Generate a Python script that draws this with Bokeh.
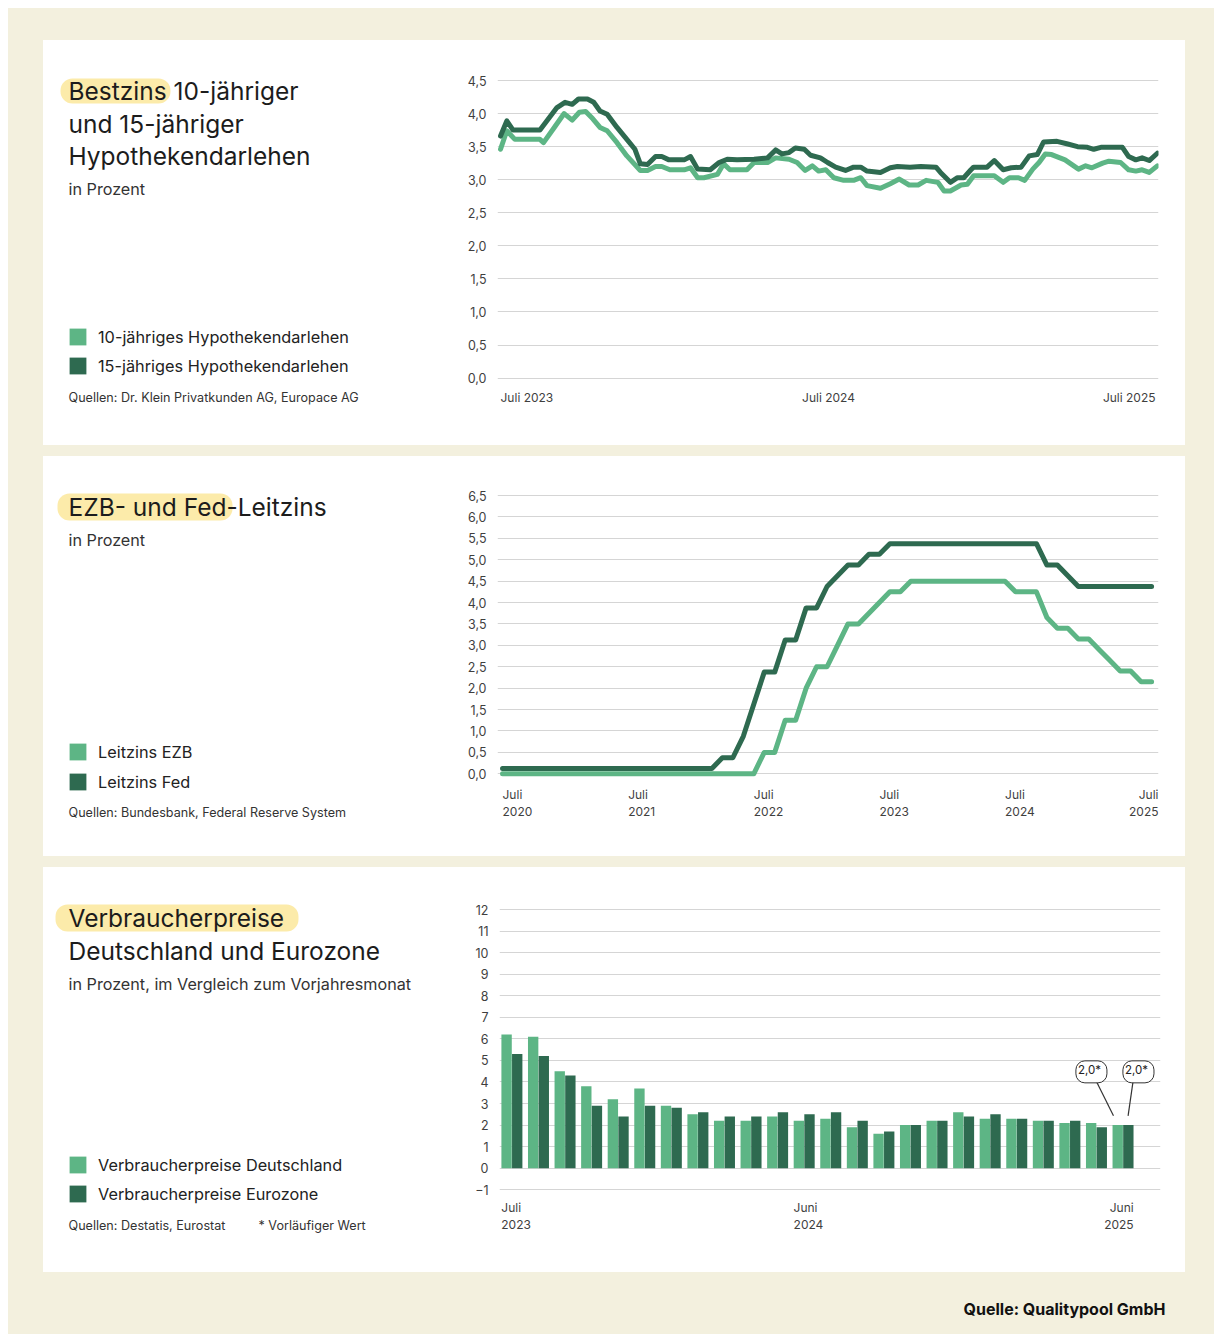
from datetime import datetime
import pandas as pd
from bokeh.plotting import figure
from bokeh.layouts import column, row
from bokeh.models import (Range1d, Label, BoxAnnotation, Legend, LegendItem,
                          FixedTicker, CustomJSTickFormatter, ColumnDataSource)
from bokeh.transform import dodge
from bokeh.embed import file_html
from bokeh.resources import INLINE

# ---------------- data: chart 1 (Bestzins Hypothekendarlehen) ----------------
hyp15_dates = ["2023-07-01", "2023-07-08", "2023-07-15", "2023-08-14", "2023-09-02", "2023-09-11",
               "2023-09-19", "2023-09-26", "2023-10-06", "2023-10-13", "2023-10-20", "2023-10-28",
               "2023-11-08", "2023-11-19", "2023-11-28", "2023-12-04", "2023-12-12", "2023-12-21",
               "2023-12-28", "2024-01-05", "2024-01-22", "2024-01-29", "2024-02-06", "2024-02-20",
               "2024-03-01", "2024-03-10", "2024-03-21", "2024-04-09", "2024-04-24", "2024-05-03",
               "2024-05-10", "2024-05-18", "2024-05-25", "2024-06-04", "2024-06-11", "2024-06-22",
               "2024-06-30", "2024-07-09", "2024-07-20", "2024-07-29", "2024-08-06", "2024-08-13",
               "2024-08-28", "2024-09-08", "2024-09-16", "2024-09-30", "2024-10-12", "2024-10-29",
               "2024-11-03", "2024-11-14", "2024-11-22", "2024-11-29", "2024-12-07", "2024-12-10",
               "2024-12-25", "2025-01-02", "2025-01-12", "2025-01-21", "2025-02-01", "2025-02-10",
               "2025-02-19", "2025-02-26", "2025-03-13", "2025-03-25", "2025-04-05", "2025-04-16",
               "2025-04-23", "2025-05-01", "2025-05-25", "2025-06-01", "2025-06-09", "2025-06-16",
               "2025-06-24", "2025-07-03"]
hyp15_values = [3.66, 3.89, 3.75, 3.75, 4.09, 4.17, 4.14, 4.22, 4.22, 4.17, 4.04, 3.99,
                3.79, 3.61, 3.46, 3.24, 3.23, 3.35, 3.35, 3.30, 3.30, 3.35, 3.16, 3.15,
                3.26, 3.31, 3.30, 3.31, 3.33, 3.45, 3.39, 3.41, 3.48, 3.46, 3.37, 3.33,
                3.26, 3.19, 3.14, 3.19, 3.19, 3.13, 3.11, 3.18, 3.20, 3.19, 3.20, 3.19,
                3.11, 2.96, 3.03, 3.03, 3.15, 3.19, 3.19, 3.29, 3.15, 3.18, 3.19, 3.36,
                3.38, 3.57, 3.58, 3.54, 3.50, 3.49, 3.46, 3.49, 3.49, 3.35, 3.30, 3.33,
                3.29, 3.40]
hyp10_dates = ["2023-07-01", "2023-07-08", "2023-07-17", "2023-08-14", "2023-08-18", "2023-08-30",
               "2023-09-10", "2023-09-19", "2023-09-27", "2023-10-04", "2023-10-12", "2023-10-20",
               "2023-10-28", "2023-11-08", "2023-11-19", "2023-12-04", "2023-12-12", "2023-12-21",
               "2023-12-28", "2024-01-06", "2024-01-22", "2024-01-29", "2024-02-06", "2024-02-13",
               "2024-02-28", "2024-03-06", "2024-03-13", "2024-04-01", "2024-04-09", "2024-04-24",
               "2024-05-03", "2024-05-18", "2024-05-27", "2024-06-05", "2024-06-13", "2024-06-20",
               "2024-06-28", "2024-07-07", "2024-07-18", "2024-07-29", "2024-08-06", "2024-08-13",
               "2024-08-28", "2024-09-08", "2024-09-18", "2024-09-29", "2024-10-09", "2024-10-18",
               "2024-10-31", "2024-11-07", "2024-11-14", "2024-11-26", "2024-12-03", "2024-12-10",
               "2025-01-02", "2025-01-12", "2025-01-19", "2025-01-29", "2025-02-05", "2025-02-14",
               "2025-02-21", "2025-02-28", "2025-03-07", "2025-03-22", "2025-04-06", "2025-04-14",
               "2025-04-21", "2025-05-03", "2025-05-10", "2025-05-23", "2025-06-01", "2025-06-09",
               "2025-06-16", "2025-06-24", "2025-07-03"]
hyp10_values = [3.46, 3.74, 3.61, 3.61, 3.56, 3.79, 4.00, 3.90, 4.02, 4.03, 3.92, 3.79,
                3.74, 3.56, 3.36, 3.14, 3.14, 3.20, 3.20, 3.15, 3.15, 3.18, 3.03, 3.03,
                3.08, 3.24, 3.15, 3.15, 3.26, 3.26, 3.33, 3.31, 3.26, 3.14, 3.21, 3.13,
                3.15, 3.03, 2.99, 2.99, 3.03, 2.91, 2.87, 2.94, 3.01, 2.92, 2.92, 2.99,
                2.96, 2.83, 2.83, 2.92, 2.93, 3.06, 3.06, 2.96, 3.03, 3.03, 2.99, 3.16,
                3.26, 3.39, 3.38, 3.30, 3.16, 3.21, 3.18, 3.25, 3.28, 3.26, 3.15, 3.13,
                3.15, 3.11, 3.21]
hyp_yticks = [0.0, 0.5, 1.0, 1.5, 2.0, 2.5, 3.0, 3.5, 4.0, 4.5]
hyp_xtick_dates = ["2023-07-01", "2024-07-01", "2025-07-01"]
hyp_xtick_labels = ["Juli 2023", "Juli 2024", "Juli 2025"]

# ---------------- data: chart 2 (Leitzinsen, monatlich ab Juli 2020) ----------------
lz_start = "2020-07-01"
ezb_values = [0.0] * 25 + [0.5, 0.5, 1.25, 1.25, 2.0, 2.5, 2.5, 3.0, 3.5, 3.5, 3.75, 4.0, 4.25, 4.25] \
    + [4.5] * 10 + [4.25] * 3 + [3.65, 3.4, 3.4, 3.15, 3.15, 2.9, 2.65, 2.4, 2.4, 2.15, 2.15]
fed_values = [0.125] * 21 + [0.375, 0.375, 0.875, 1.625, 2.375, 2.375, 3.125, 3.125, 3.875, 3.875,
                             4.375, 4.625, 4.875, 4.875, 5.125, 5.125] \
    + [5.375] * 15 + [4.875, 4.875, 4.625] + [4.375] * 8
lz_yticks = [0.0, 0.5, 1.0, 1.5, 2.0, 2.5, 3.0, 3.5, 4.0, 4.5, 5.0, 5.5, 6.0, 6.5]
lz_xtick_months = ["2020-07", "2021-07", "2022-07", "2023-07", "2024-07", "2025-07"]
lz_xtick_top = ["Juli", "Juli", "Juli", "Juli", "Juli", "Juli"]
lz_xtick_bottom = ["2020", "2021", "2022", "2023", "2024", "2025"]

# ---------------- data: chart 3 (Verbraucherpreise) ----------------
vpi_months = ["2023-07", "2023-08", "2023-09", "2023-10", "2023-11", "2023-12",
              "2024-01", "2024-02", "2024-03", "2024-04", "2024-05", "2024-06",
              "2024-07", "2024-08", "2024-09", "2024-10", "2024-11", "2024-12",
              "2025-01", "2025-02", "2025-03", "2025-04", "2025-05", "2025-06"]
vpi_de = [6.2, 6.1, 4.5, 3.8, 3.2, 3.7, 2.9, 2.5, 2.2, 2.2, 2.4, 2.2,
          2.3, 1.9, 1.6, 2.0, 2.2, 2.6, 2.3, 2.3, 2.2, 2.1, 2.1, 2.0]
vpi_ez = [5.3, 5.2, 4.3, 2.9, 2.4, 2.9, 2.8, 2.6, 2.4, 2.4, 2.6, 2.5,
          2.6, 2.2, 1.7, 2.0, 2.2, 2.4, 2.5, 2.3, 2.2, 2.2, 1.9, 2.0]
vpi_yticks = [-1, 0, 1, 2, 3, 4, 5, 6, 7, 8, 9, 10, 11, 12]
vpi_xtick_months = ["2023-07", "2024-06", "2025-06"]
vpi_xtick_top = ["Juli", "Juni", "Juni"]
vpi_xtick_bottom = ["2023", "2024", "2025"]

# ---------------- style ----------------
FONT = "Inter"
BEIGE = "#f3f0de"
LIGHT = "#5db585"
DARK = "#2e6a50"
HILITE = "#fbe79b"
GRID = "#d5d5d5"
INK = "#1c1c1c"
TICK = "#3f3f3f"
PANEL_LEFT = 43          # page x of the white panels
PANEL_W = 1142
LEFT_W = 400             # width of the text column inside a panel
TITLE_PX = 24.5
SUB_PX = 16.2
LEG_PX = 16.3
SRC_PX = 12.6
NAN = float("nan")


def to_ms(d):
    return (pd.Timestamp(d) - pd.Timestamp("1970-01-01")) / pd.Timedelta(milliseconds=1)


def vsetup(panel_top, panel_h, top_px, bot_px, v_top, v_bot, pad_top=1, mbb=2):
    ppu = (bot_px - top_px) / (v_top - v_bot)
    mbt = int(round(top_px - pad_top - panel_top))
    frame_top = panel_top + mbt
    frame_bot = panel_top + panel_h - mbb
    start = v_bot - (frame_bot - bot_px) / ppu
    end = v_top + (top_px - frame_top) / ppu

    def val(py):
        return v_bot + (bot_px - py) / ppu
    return Range1d(start, end), mbt, mbb, val


def text_fig(panel_top, panel_h):
    f = figure(width=LEFT_W, height=panel_h, x_range=Range1d(0, LEFT_W), y_range=Range1d(0, panel_h),
               title=None, x_axis_location=None, y_axis_location=None, toolbar_location=None,
               output_backend="svg", min_border=0, outline_line_color=None,
               background_fill_color="white", border_fill_color="white", frame_align=False)
    f.xgrid.visible = False
    f.ygrid.visible = False
    f._panel = (panel_top, panel_h)
    return f


def tx(f, px, py):
    top, h = f._panel
    return px - PANEL_LEFT, h - (py - top)


def text(f, s, px, py, size, color=INK, style="normal"):
    x, y = tx(f, px, py)
    f.add_layout(Label(x=x, y=y, text=s, text_font=FONT, text_font_size=f"{size}px",
                       text_color=color, text_align="left", text_baseline="middle",
                       text_font_style=style))


def hilite(f, x0, x1, y0, y1):
    l, t = tx(f, x0, y0)
    r, b = tx(f, x1, y1)
    f.add_layout(BoxAnnotation(left=l, right=r, top=t, bottom=b,
                               fill_color=HILITE, fill_alpha=0.85, line_color=None,
                               border_radius=12, level="underlay"))


def legend(f, labels, colors, sq_left, sq_bottom, spacing):
    # legend proxies: glyphs without any visible data point
    rs = [f.vbar(x=[NAN], top=[NAN], width=1, fill_color=c, line_color=None) for c in colors]
    x, y = tx(f, sq_left - 2, sq_bottom + 2)
    lg = Legend(items=[LegendItem(label=lab, renderers=[r]) for lab, r in zip(labels, rs)],
                location=(x, y), orientation="vertical", glyph_width=21, glyph_height=21,
                label_height=21, label_standoff=10, spacing=spacing,
                padding=0, margin=0, border_line_color=None,
                background_fill_alpha=0, label_text_font=FONT,
                label_text_font_size=f"{LEG_PX}px", label_text_color="#222222",
                label_text_baseline="middle")
    f.add_layout(lg)


def chart_fig(panel_h, frame_left, frame_right, yr, mbt, mbb, x_range, x_type="linear"):
    fig_left = PANEL_LEFT + LEFT_W
    p = figure(width=PANEL_W - LEFT_W, height=panel_h, x_range=x_range, y_range=yr,
               title=None, x_axis_type=x_type, x_axis_location=None,
               toolbar_location=None, output_backend="svg",
               min_border_left=frame_left - fig_left,
               min_border_right=PANEL_LEFT + PANEL_W - frame_right,
               min_border_top=mbt, min_border_bottom=mbb,
               outline_line_color=None, background_fill_color="white",
               border_fill_color="white", frame_align=False)
    p.xgrid.visible = False
    p.ygrid.grid_line_color = GRID
    p.ygrid.grid_line_width = 1
    ax = p.yaxis[0]
    ax.axis_line_color = None
    ax.major_tick_line_color = None
    ax.minor_tick_line_color = None
    ax.major_tick_out = 0
    ax.major_tick_in = 0
    ax.major_label_standoff = 11
    ax.major_label_text_font = FONT
    ax.major_label_text_font_size = "12.5px"
    ax.major_label_text_color = TICK
    return p


def tick_label(p, x, y, s, align):
    p.add_layout(Label(x=x, y=y, text=s, text_font=FONT, text_font_size="12px",
                       text_color=TICK, text_align=align, text_baseline="middle"))


comma1 = CustomJSTickFormatter(code="return tick.toFixed(1).replace('.', ',');")

# ================= Panel 1 =================
P1_TOP, P1_H = 40, 405
yr1, mbt1, mbb1, val1 = vsetup(P1_TOP, P1_H, 80, 377.6, 4.5, 0.0)
xr1 = Range1d(datetime(2023, 6, 27, 15), datetime(2025, 7, 4, 7))
p1 = chart_fig(P1_H, 497, 1158, yr1, mbt1, mbb1, xr1, "datetime")
p1.yaxis.ticker = FixedTicker(ticks=hyp_yticks)
p1.yaxis.formatter = comma1
p1.line(x=pd.to_datetime(hyp10_dates), y=hyp10_values, line_width=5, color=LIGHT,
        line_join="round", line_cap="round")
p1.line(x=pd.to_datetime(hyp15_dates), y=hyp15_values, line_width=5, color=DARK,
        line_join="round", line_cap="round")
for d, s, a in zip(hyp_xtick_dates, hyp_xtick_labels, ["left", "center", "right"]):
    tick_label(p1, to_ms(d), val1(397), s, a)

t1 = text_fig(P1_TOP, P1_H)
hilite(t1, 60, 170, 78, 103)
text(t1, "Bestzins 10-jähriger", 68, 90, TITLE_PX)
text(t1, "und 15-jähriger", 68, 123, TITLE_PX)
text(t1, "Hypothekendarlehen", 68, 155, TITLE_PX)
text(t1, "in Prozent", 68, 188, SUB_PX, color="#333333")
text(t1, "Quellen: Dr. Klein Privatkunden AG, Europace AG", 68, 397, SRC_PX, color="#333333")
legend(t1, ["10-jähriges Hypothekendarlehen", "15-jähriges Hypothekendarlehen"],
       [LIGHT, DARK], 69, 374, 8)

# ================= Panel 2 =================
P2_TOP, P2_H = 456, 400
yr2, mbt2, mbb2, val2 = vsetup(P2_TOP, P2_H, 495, 773.3, 6.5, 0.0)
lz_months = pd.date_range(lz_start, periods=len(ezb_values), freq="MS")
lz_index = list(range(len(lz_months)))
xr2 = Range1d(-0.48, 62.66)
p2 = chart_fig(P2_H, 497, 1158, yr2, mbt2, mbb2, xr2)
p2.yaxis.ticker = FixedTicker(ticks=lz_yticks)
p2.yaxis.formatter = comma1
p2.line(x=lz_index, y=ezb_values, line_width=5, color=LIGHT, line_join="round", line_cap="round")
p2.line(x=lz_index, y=fed_values, line_width=5, color=DARK, line_join="round", line_cap="round")
month_pos = {m.strftime("%Y-%m"): i for i, m in enumerate(lz_months)}
for k, (mk, top, bot) in enumerate(zip(lz_xtick_months, lz_xtick_top, lz_xtick_bottom)):
    last = k == len(lz_xtick_months) - 1
    xpos = xr2.end if last else month_pos[mk]
    al = "right" if last else "left"
    tick_label(p2, xpos, val2(794), top, al)
    tick_label(p2, xpos, val2(811), bot, al)

t2 = text_fig(P2_TOP, P2_H)
hilite(t2, 57, 232, 493, 520)
text(t2, "EZB- und Fed-Leitzins", 68, 506, TITLE_PX)
text(t2, "in Prozent", 68, 539, SUB_PX, color="#333333")
text(t2, "Quellen: Bundesbank, Federal Reserve System", 68, 812, SRC_PX, color="#333333")
legend(t2, ["Leitzins EZB", "Leitzins Fed"], [LIGHT, DARK], 69, 790, 9)

# ================= Panel 3 =================
P3_TOP, P3_H = 867, 405
yr3, mbt3, mbb3, val3 = vsetup(P3_TOP, P3_H, 909, 1189.3, 12, -1)
xr3 = Range1d(-0.467, 24.41)
p3 = chart_fig(P3_H, 499, 1160, yr3, mbt3, mbb3, xr3)
p3.yaxis.ticker = FixedTicker(ticks=vpi_yticks)
src3 = ColumnDataSource(dict(m=list(range(len(vpi_months))), de=vpi_de, ez=vpi_ez))
p3.vbar(x=dodge("m", -0.2, range=xr3), top="de", bottom=0, width=0.39, source=src3,
        fill_color=LIGHT, line_color=None)
p3.vbar(x=dodge("m", 0.2, range=xr3), top="ez", bottom=0, width=0.39, source=src3,
        fill_color=DARK, line_color=None)

# callouts for the provisional last values
last = len(vpi_months) - 1
call_vals = [vpi_de[-1], vpi_ez[-1]]
call_dx = [-1.19, 0.58]
seg_dx0 = [-1.01, 0.38]
seg_dx1 = [-0.36, 0.19]
p3.segment(x0=[last + d for d in seg_dx0], y0=[v + 2.05 for v in call_vals],
           x1=[last + d for d in seg_dx1], y1=[v + 0.43 for v in call_vals],
           line_color="#333333", line_width=1.2)
for v, dx in zip(call_vals, call_dx):
    p3.add_layout(Label(x=last + dx, y=v + 2.47, text=f"{v:.1f}".replace(".", ",") + "*",
                        text_font=FONT, text_font_size="11.5px", text_color="#222222",
                        text_align="center", text_baseline="middle",
                        background_fill_color="white", border_line_color="#333333",
                        border_line_width=1, border_radius=9, padding=(2, 6, 2, 6)))
vpi_pos = {m: i for i, m in enumerate(vpi_months)}
for k, (mk, top, bot) in enumerate(zip(vpi_xtick_months, vpi_xtick_top, vpi_xtick_bottom)):
    last_lab = k == len(vpi_xtick_months) - 1
    xpos = vpi_pos[mk] + (0.4 if last_lab else -0.4)
    al = "right" if last_lab else "left"
    tick_label(p3, xpos, val3(1207), top, al)
    tick_label(p3, xpos, val3(1224), bot, al)

t3 = text_fig(P3_TOP, P3_H)
hilite(t3, 55, 298, 904, 931)
text(t3, "Verbraucherpreise", 68, 917, TITLE_PX)
text(t3, "Deutschland und Eurozone", 68, 950, TITLE_PX)
text(t3, "in Prozent, im Vergleich zum Vorjahresmonat", 68, 983, SUB_PX, color="#333333")
text(t3, "Quellen: Destatis, Eurostat", 68, 1225, SRC_PX, color="#333333")
text(t3, "* Vorläufiger Wert", 258, 1225, SRC_PX, color="#333333")
legend(t3, ["Verbraucherpreise Deutschland", "Verbraucherpreise Eurozone"],
       [LIGHT, DARK], 69, 1202, 8)

# ================= Footer =================
FOOT_H = 51
pf = figure(width=PANEL_W, height=FOOT_H, x_range=Range1d(0, PANEL_W), y_range=Range1d(0, FOOT_H),
            title=None, x_axis_location=None, y_axis_location=None, toolbar_location=None,
            output_backend="svg", min_border=0, outline_line_color=None,
            background_fill_color=BEIGE, border_fill_color=BEIGE, frame_align=False)
pf.xgrid.visible = False
pf.ygrid.visible = False
pf.add_layout(Label(x=1165 - PANEL_LEFT, y=FOOT_H - (1308 - 1283), text="Quelle: Qualitypool GmbH",
                    text_font=FONT, text_font_size="16px", text_font_style="bold",
                    text_color="#111111", text_align="right", text_baseline="middle"))

panels = [row(t, p, spacing=0, styles={"background-color": "white"})
          for t, p in ((t1, p1), (t2, p2), (t3, p3))]
layout = column(*panels, pf, spacing=11,
                styles={"background-color": BEIGE, "padding": "32px 29px 0px 35px",
                        "margin": "8px 0px 0px 8px"})

open("out.html", "w").write(file_html(layout, INLINE))
